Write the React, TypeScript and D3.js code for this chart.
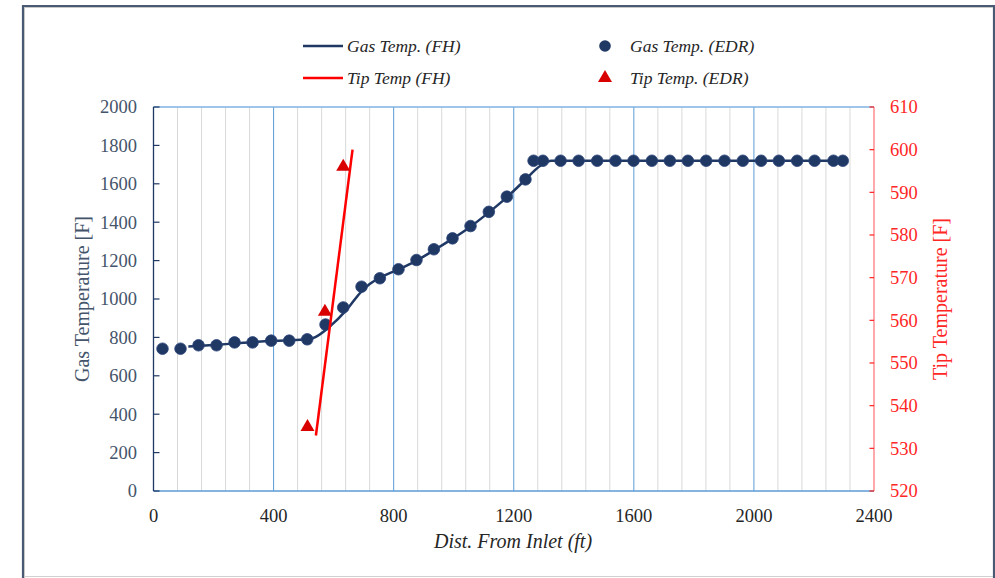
import React from "react";
import * as d3 from "d3";

const gasEdrX = [30, 90, 150, 210, 270, 330, 392, 452, 512, 573, 632, 693, 754, 816, 876, 934, 996, 1056, 1117, 1177, 1239, 1266, 1297, 1356, 1416, 1478, 1539, 1599, 1660, 1720, 1780, 1841, 1902, 1963, 2024, 2083, 2144, 2202, 2265, 2296];
const gasEdrY = [741, 741, 759, 759, 774, 774, 783, 783, 790, 867, 956, 1064, 1108, 1155, 1203, 1259, 1316, 1380, 1454, 1533, 1623, 1720, 1720, 1720, 1720, 1720, 1720, 1720, 1720, 1720, 1720, 1720, 1720, 1720, 1720, 1720, 1720, 1720, 1720, 1720];

const gasFhX = [116, 200, 300, 400, 500, 532, 587, 643, 690, 720, 753, 810, 870, 930, 990, 1050, 1110, 1170, 1230, 1290, 1325, 2296];
const gasFhY = [752, 760, 772, 782, 789, 797, 856, 943, 1035, 1078, 1110, 1150, 1195, 1250, 1308, 1370, 1442, 1520, 1608, 1695, 1720, 1720];

const tipFhX = [541, 663];
const tipFhY = [533, 600];

const tipEdrX = [513, 571, 632];
const tipEdrY = [535, 562, 596];

const xTicks = [0, 400, 800, 1200, 1600, 2000, 2400];
const yLeftTicks = [0, 200, 400, 600, 800, 1000, 1200, 1400, 1600, 1800, 2000];
const yRightTicks = [520, 530, 540, 550, 560, 570, 580, 590, 600, 610];

const legendLabels = ["Gas Temp. (FH)", "Tip Temp (FH)", "Gas Temp. (EDR)", "Tip Temp. (EDR)"];

const xTitle = "Dist. From Inlet (ft)";
const yLeftTitle = "Gas Temperature [F]";
const yRightTitle = "Tip Temperature [F]";

const NAVY = "#1F3864";
const RED = "#FF0000";
const TRI = "#D90000";
const FONT = "'Liberation Serif', 'Times New Roman', serif";

export default function App() {
  const W = 995, H = 578;
  const x = d3.scaleLinear().domain([0, 2400]).range([153.5, 874]);
  const yL = d3.scaleLinear().domain([0, 2000]).range([491, 107]);
  const yR = d3.scaleLinear().domain([520, 610]).range([491, 107]);

  const minorTicks = d3.range(0, 2401, 80).filter((v) => v % 400 !== 0);
  const majorTicks = xTicks.filter((v) => v !== 0 && v !== 2400);

  const gasLine = d3
    .line<number>()
    .x((_, i) => x(gasFhX[i]))
    .y((d) => yL(d))
    .curve(d3.curveMonotoneX)(gasFhY);

  const tipLine = d3
    .line<number>()
    .x((_, i) => x(tipFhX[i]))
    .y((d) => yR(d))(tipFhY);

  const tri = d3.symbol().type(d3.symbolTriangle).size(85)();

  const [x0, x1] = x.range();
  const yTop = 107, yBot = 491;

  return (
    <div style={{ position: "absolute", left: 0, top: 0 }}>
      <svg width={W} height={H} style={{ display: "block", background: "#fff" }}>
        {/* frame */}
        <rect x={0} y={0} width={W} height={H} fill="#fff" />
        <line x1={23} y1={5} x2={23} y2={H} stroke="#4B5A74" strokeWidth={2.2} />
        <line x1={22} y1={6} x2={W} y2={6} stroke="#4B5A74" strokeWidth={2.2} />
        <line x1={994} y1={5} x2={994} y2={H} stroke="#4B5A74" strokeWidth={2.2} />
        <line x1={24.5} y1={7.5} x2={24.5} y2={H} stroke="#C8C8C8" strokeWidth={1} />
        <line x1={24} y1={7.5} x2={993} y2={7.5} stroke="#C8C8C8" strokeWidth={1} />
        <line x1={24} y1={576.5} x2={993} y2={576.5} stroke="#D0D0D0" strokeWidth={1} />

        {/* minor gridlines */}
        {minorTicks.map((v) => (
          <line key={"m" + v} x1={x(v)} x2={x(v)} y1={yTop} y2={yBot} stroke="#D9D9D9" strokeWidth={1} />
        ))}
        {/* major gridlines */}
        {majorTicks.map((v) => (
          <line key={"M" + v} x1={x(v)} x2={x(v)} y1={yTop} y2={yBot} stroke="#5B9BD5" strokeWidth={1} />
        ))}
        {/* top & bottom borders */}
        <line x1={x0} x2={x1} y1={yTop} y2={yTop} stroke="#7FB2E0" strokeWidth={1.5} />
        <line x1={x0} x2={x1} y1={yBot} y2={yBot} stroke="#5B9BD5" strokeWidth={1.5} />

        {/* left axis */}
        <line x1={x0} x2={x0} y1={yTop} y2={yBot} stroke={NAVY} strokeWidth={1.3} />
        {yLeftTicks.map((v) => (
          <g key={"yl" + v}>
            <line x1={x0} x2={x0 + 6} y1={yL(v)} y2={yL(v)} stroke={NAVY} strokeWidth={1.2} />
            <text x={137} y={yL(v)} dy="0.35em" textAnchor="end" fontFamily={FONT} fontSize={18.5} fill="#44546A">
              {v}
            </text>
          </g>
        ))}

        {/* right axis */}
        <line x1={x1} x2={x1} y1={yTop} y2={yBot} stroke="#FF7C80" strokeWidth={1.3} />
        {yRightTicks.map((v) => (
          <g key={"yr" + v}>
            <line x1={x1 - 4.5} x2={x1} y1={yR(v)} y2={yR(v)} stroke="#FF2020" strokeWidth={1.2} />
            <text x={890} y={yR(v)} dy="0.35em" textAnchor="start" fontFamily={FONT} fontSize={18.5} fill="#FF2626">
              {v}
            </text>
          </g>
        ))}

        {/* bottom tick labels */}
        {xTicks.map((v) => (
          <text key={"xt" + v} x={x(v)} y={516} dy="0.35em" textAnchor="middle" fontFamily={FONT} fontSize={18.5} fill="#262626">
            {v}
          </text>
        ))}

        {/* axis titles */}
        <text x={513} y={541} dy="0.35em" textAnchor="middle" fontFamily={FONT} fontStyle="italic" fontSize={20} fill="#262626">
          {xTitle}
        </text>
        <text
          transform={`translate(82,299) rotate(-90)`}
          dy="0.35em"
          textAnchor="middle"
          fontFamily={FONT}
          fontSize={20}
          fill="#44546A"
        >
          {yLeftTitle}
        </text>
        <text
          transform={`translate(940,299) rotate(-90)`}
          dy="0.35em"
          textAnchor="middle"
          fontFamily={FONT}
          fontSize={20}
          fill="#FF2626"
        >
          {yRightTitle}
        </text>

        {/* Gas FH line */}
        <path d={gasLine || ""} fill="none" stroke={NAVY} strokeWidth={2.5} />

        {/* Gas EDR points */}
        {gasEdrY.map((v, i) => (
          <circle key={"g" + i} cx={x(gasEdrX[i])} cy={yL(v)} r={5.8} fill={NAVY} stroke="#2A4378" strokeWidth={0.8} />
        ))}

        {/* Tip FH line */}
        <path d={tipLine || ""} fill="none" stroke={RED} strokeWidth={2.5} />

        {/* Tip EDR triangles */}
        {tipEdrY.map((v, i) => (
          <path key={"t" + i} d={tri || ""} transform={`translate(${x(tipEdrX[i])},${yR(v)})`} fill={TRI} />
        ))}

        {/* legend */}
        <line x1={303} x2={343} y1={46} y2={46} stroke={NAVY} strokeWidth={2.5} />
        <text x={347} y={46} dy="0.35em" fontFamily={FONT} fontStyle="italic" fontSize={17.5} fill="#262626">
          {legendLabels[0]}
        </text>
        <line x1={303} x2={343} y1={78} y2={78} stroke={RED} strokeWidth={2.5} />
        <text x={347} y={78} dy="0.35em" fontFamily={FONT} fontStyle="italic" fontSize={17.5} fill="#262626">
          {legendLabels[1]}
        </text>
        <circle cx={605} cy={46} r={5.8} fill={NAVY} />
        <text x={630} y={46} dy="0.35em" fontFamily={FONT} fontStyle="italic" fontSize={17.5} fill="#262626">
          {legendLabels[2]}
        </text>
        <path d={tri || ""} transform="translate(605,78)" fill={TRI} />
        <text x={630} y={78} dy="0.35em" fontFamily={FONT} fontStyle="italic" fontSize={17.5} fill="#262626">
          {legendLabels[3]}
        </text>
      </svg>
    </div>
  );
}
